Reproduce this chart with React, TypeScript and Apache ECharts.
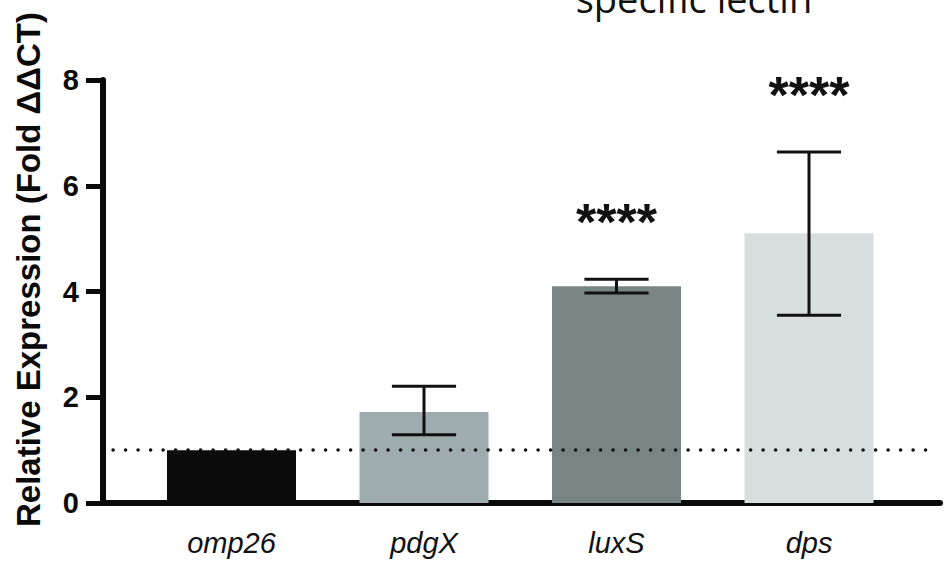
import React, { useEffect, useRef } from "react";
import * as echarts from "echarts";

const categories = ["omp26", "pdgX", "luxS", "dps"];
const means = [1.0, 1.72, 4.1, 5.1];
const errLow = [1.0, 1.29, 3.97, 3.55];
const errHigh = [1.0, 2.21, 4.23, 6.64];
const significance = ["", "", "****", "****"];
const barColors = ["#0b0b0b", "#9eabaf", "#788584", "#d7dfde"];
const yTicks = [0, 2, 4, 6, 8];
const referenceLevel = 1;

export default function App() {
  const ref = useRef<HTMLDivElement>(null);
  useEffect(() => {
    if (!ref.current) return;
    const chart = echarts.init(ref.current, null, { renderer: "svg" });
    const top = 80;
    const bottom = 571 - 503;
    const option: any = {
      animation: false,
      backgroundColor: "#ffffff",
      graphic: [
        {
          type: "text",
          x: 694,
          y: -2,
          style: {
            text: "specific lectin",
            fontFamily: "Open Sans",
            fontSize: 38,
            fill: "#111111",
            align: "center",
            verticalAlign: "middle",
          },
        },
      ],
      grid: [
        { left: 103, right: 8, top, bottom },
        { left: 135.25, right: 948 - 905.25, top, bottom },
      ],
      xAxis: [
        {
          type: "value",
          gridIndex: 0,
          min: 0,
          max: 1,
          axisLine: { show: true, lineStyle: { color: "#0a0a0a", width: 6 } },
          axisTick: { show: false },
          axisLabel: { show: false },
          splitLine: { show: false },
        },
        {
          type: "category",
          gridIndex: 1,
          data: categories,
          axisLine: { show: false },
          axisTick: { show: false },
          axisLabel: {
            fontFamily: "Liberation Sans, Arial, sans-serif",
            fontStyle: "italic",
            fontSize: 29,
            color: "#111111",
            margin: 25,
          },
        },
      ],
      yAxis: [
        {
          type: "value",
          gridIndex: 0,
          min: yTicks[0],
          max: yTicks[yTicks.length - 1],
          interval: 2,
          name: "Relative Expression (Fold \u0394\u0394CT)",
          nameLocation: "middle",
          nameGap: 58,
          nameRotate: 90,
          nameTextStyle: {
            fontFamily: "Liberation Sans, Arial, sans-serif",
            fontWeight: "bold",
            fontSize: 33,
            color: "#0a0a0a",
            padding: [0, 0, 0, 44],
          },
          axisLine: { show: true, lineStyle: { color: "#0a0a0a", width: 6 } },
          axisTick: { show: true, length: 17, lineStyle: { color: "#0a0a0a", width: 5 } },
          axisLabel: {
            fontFamily: "Liberation Sans, Arial, sans-serif",
            fontWeight: "bold",
            fontSize: 29,
            color: "#0a0a0a",
            margin: 24,
          },
          splitLine: { show: false },
        },
        {
          type: "value",
          gridIndex: 1,
          min: yTicks[0],
          max: yTicks[yTicks.length - 1],
          show: false,
          splitLine: { show: false },
        },
      ],
      series: [
        {
          type: "line",
          xAxisIndex: 0,
          yAxisIndex: 0,
          data: [],
          z: 1,
          markLine: {
            silent: true,
            symbol: "none",
            label: { show: false },
            lineStyle: { color: "#111111", width: 3.5, type: [0.1, 12.4], cap: "round" },
            data: [[{ coord: [0.012, referenceLevel] }, { coord: [0.988, referenceLevel] }]],
          },
        },
        {
          type: "bar",
          xAxisIndex: 1,
          yAxisIndex: 1,
          barWidth: 129,
          z: 2,
          data: means.map((v, i) => ({ value: v, itemStyle: { color: barColors[i] } })),
        },
        {
          type: "custom",
          xAxisIndex: 1,
          yAxisIndex: 1,
          z: 3,
          data: categories.map((_, i) => [i, errLow[i], errHigh[i]]),
          renderItem: (params: any, api: any) => {
            const i = api.value(0);
            const lo = api.coord([i, api.value(1)]);
            const hi = api.coord([i, api.value(2)]);
            const half = api.size([1, 0])[0] / 6;
            const style = { stroke: "#111111", lineWidth: 3 };
            if (Math.abs(hi[1] - lo[1]) < 1) return { type: "group", children: [] };
            return {
              type: "group",
              children: [
                { type: "line", shape: { x1: hi[0], y1: hi[1], x2: lo[0], y2: lo[1] }, style },
                { type: "line", shape: { x1: hi[0] - half, y1: hi[1], x2: hi[0] + half, y2: hi[1] }, style },
                { type: "line", shape: { x1: lo[0] - half, y1: lo[1], x2: lo[0] + half, y2: lo[1] }, style },
              ],
            };
          },
        },
        {
          type: "custom",
          xAxisIndex: 1,
          yAxisIndex: 1,
          z: 4,
          data: categories.map((_, i) => [i, errHigh[i]]),
          renderItem: (params: any, api: any) => {
            const i = api.value(0);
            const txt = significance[i];
            if (!txt) return { type: "group", children: [] };
            const p = api.coord([i, api.value(1)]);
            return {
              type: "text",
              x: p[0],
              y: p[1] - 57,
              style: {
                text: txt,
                fontFamily: "Liberation Sans, Arial, sans-serif",
                fontWeight: "bold",
                fontSize: 52,
                fill: "#111111",
                align: "center",
                verticalAlign: "middle",
              },
            };
          },
        },
      ],
    };
    chart.setOption(option);
    return () => chart.dispose();
  }, []);
  return <div ref={ref} style={{ width: 948, height: 571, position: "absolute", left: 0, top: 0 }} />;
}
